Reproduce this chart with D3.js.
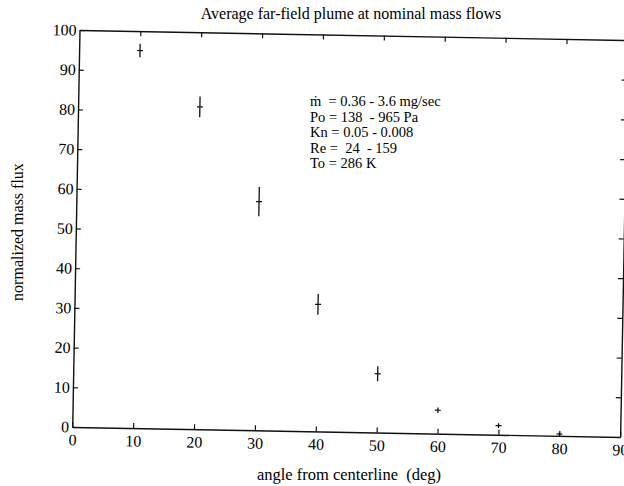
<!DOCTYPE html>
<html>
<head>
<meta charset="utf-8">
<script src="https://cdn.jsdelivr.net/npm/d3@7"></script>
<style>
  body { margin: 0; background: #fff; }
  svg { display: block; font-family: "Liberation Serif", "DejaVu Serif", serif; }
</style>
</head>
<body>
<div class="playground"></div>
<script>
// data
var angles   = [10, 20, 30, 40, 50, 60, 70, 80];
var flux     = [95.1, 81.2, 57.6, 32.0, 14.8, 5.9, 2.3, 0.45];
var fluxErr  = [1.7, 2.6, 3.7, 2.6, 1.9, 0.7, 0.6, 0.4];

var xTicks   = [0, 10, 20, 30, 40, 50, 60, 70, 80, 90];
var yTicks   = [0, 10, 20, 30, 40, 50, 60, 70, 80, 90, 100];

var notes    = ["\u1E41  = 0.36 - 3.6 mg/sec",
                "Po = 138  - 965 Pa",
                "Kn = 0.05 - 0.008",
                "Re =  24  - 159",
                "To = 286 K"];

var width   = 624,
    height  = 486,
    plotW   = 548,
    plotH   = 397,
    tilt    = 1.05;   // the scan is slightly rotated

var svg = d3.select(".playground")
            .append("svg")
            .attr("width", width)
            .attr("height", height);

var x = d3.scaleLinear().domain([0, 90]).range([0, plotW]);
var y = d3.scaleLinear().domain([0, 100]).range([plotH, 0]);

var plot = svg.append("g")
              .attr("transform", "translate(79.5,30) rotate(" + tilt + ")");

// frame + axes, ticks pointing inward
var axBottom = plot.append("g")
                   .attr("transform", "translate(0," + plotH + ")")
                   .call(d3.axisBottom(x).tickValues(xTicks).tickSizeInner(-5).tickSizeOuter(0).tickPadding(7));
var axLeft   = plot.append("g")
                   .call(d3.axisLeft(y).tickValues(yTicks).tickSizeInner(-5).tickSizeOuter(0).tickPadding(3));
var axTop    = plot.append("g")
                   .call(d3.axisTop(x).tickValues(xTicks.slice(1, -1)).tickSizeInner(-5).tickSizeOuter(0).tickFormat(""));
var axRight  = plot.append("g")
                   .attr("transform", "translate(" + plotW + ",0)")
                   .call(d3.axisRight(y).tickValues(yTicks.slice(1, -1)).tickSizeInner(-5).tickSizeOuter(0).tickFormat(""));

[axBottom, axLeft, axTop, axRight].forEach(function (a) {
  a.attr("font-family", "Liberation Serif").attr("font-size", 16);
  a.select(".domain").attr("stroke", "#111").attr("stroke-width", 1.4);
  a.selectAll(".tick line").attr("stroke", "#111").attr("stroke-width", 1.2);
  a.selectAll(".tick text").attr("fill", "#000");
});

// data crosses with error bars
var pts = plot.append("g")
              .selectAll("g")
              .data(angles)
              .enter()
              .append("g");

pts.append("line")
   .attr("x1", function(d) { return x(d); })
   .attr("x2", function(d) { return x(d); })
   .attr("y1", function(d, i) { return y(flux[i] + fluxErr[i]); })
   .attr("y2", function(d, i) { return y(flux[i] - fluxErr[i]); })
   .attr("stroke", "#111")
   .attr("stroke-width", 1.3);

pts.append("line")
   .attr("x1", function(d) { return x(d) - 3; })
   .attr("x2", function(d) { return x(d) + 3; })
   .attr("y1", function(d, i) { return y(flux[i]); })
   .attr("y2", function(d, i) { return y(flux[i]); })
   .attr("stroke", "#111")
   .attr("stroke-width", 1.2);

// annotation block
var noteG = svg.append("g")
               .attr("font-size", 14.5)
               .attr("fill", "#000");

noteG.selectAll("text")
     .data(notes)
     .enter()
     .append("text")
     .attr("x", 310)
     .attr("y", function(d, i) { return 106 + i * 15.5; })
     .attr("xml:space", "preserve")
     .style("white-space", "pre")
     .text(function(d) { return d; });

// titles
svg.append("text")
   .attr("x", 351)
   .attr("y", 19)
   .attr("text-anchor", "middle")
   .attr("font-size", 16)
   .text("Average far-field plume at nominal mass flows");

svg.append("text")
   .attr("transform", "translate(23,232) rotate(-90)")
   .attr("text-anchor", "middle")
   .attr("font-size", 16)
   .text("normalized mass flux");

svg.append("text")
   .attr("x", 349)
   .attr("y", 480)
   .attr("text-anchor", "middle")
   .attr("font-size", 16.5)
   .style("white-space", "pre")
   .text("angle from centerline  (deg)");
</script>
</body>
</html>
